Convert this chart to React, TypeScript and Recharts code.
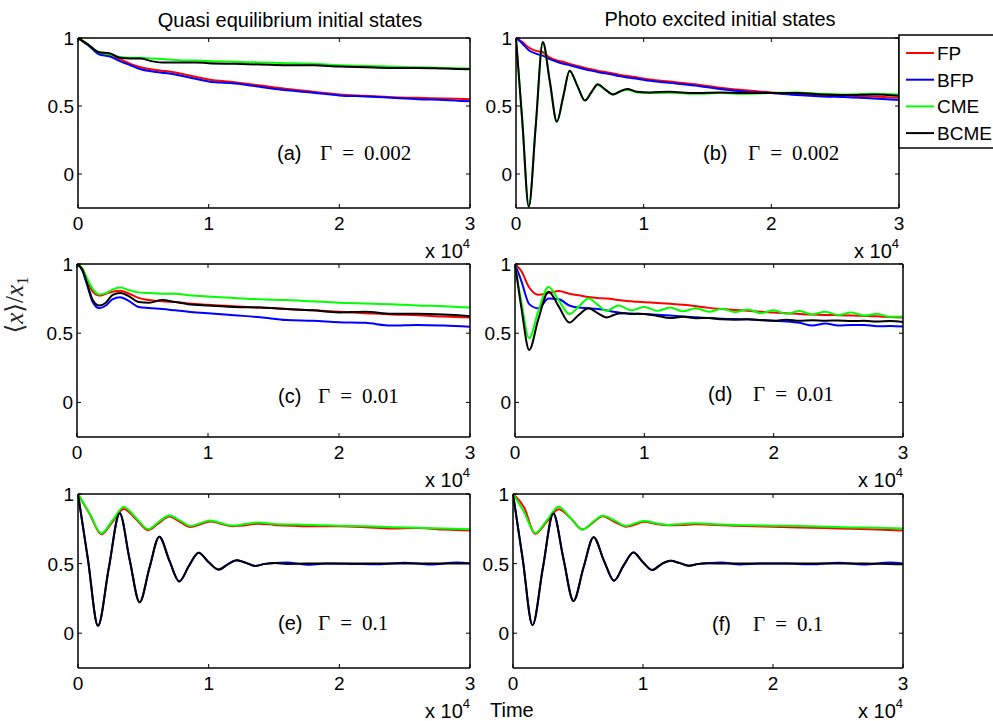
import React from "react";
import { LineChart, Line, XAxis, YAxis } from "recharts";

const SANS = "'Liberation Sans', Arial, Helvetica, sans-serif";
const SERIF = "'Liberation Serif', 'DejaVu Serif', 'Times New Roman', serif";

// series order is also the drawing order
const NAMES = ["FP", "BFP", "CME", "BCME"];
const COLORS = ["#ff0000", "#0000ff", "#00ff00", "#000000"];

const xTicks = [0, 1, 2, 3];
const yTicks = [0, 0.5, 1];

// (a) quasi equilibrium, Gamma = 0.002   (time in units of 1e4)
const tA = [0, 0.08, 0.16, 0.24, 0.32, 0.4, 0.48, 0.56, 0.64, 0.72, 0.8, 0.9, 1.0, 1.2, 1.4, 1.6, 1.8, 2.0, 2.2, 2.4, 2.6, 2.8, 3.0];
const aFP = [1, 0.95, 0.89, 0.875, 0.845, 0.81, 0.785, 0.77, 0.76, 0.75, 0.735, 0.715, 0.695, 0.675, 0.65, 0.625, 0.605, 0.585, 0.575, 0.565, 0.56, 0.555, 0.55];
const aBFP = [1, 0.945, 0.88, 0.865, 0.83, 0.8, 0.77, 0.755, 0.745, 0.735, 0.72, 0.7, 0.68, 0.665, 0.64, 0.615, 0.598, 0.578, 0.57, 0.56, 0.55, 0.545, 0.535];
const aCME = [1, 0.95, 0.895, 0.88, 0.86, 0.855, 0.855, 0.85, 0.845, 0.84, 0.835, 0.835, 0.83, 0.825, 0.82, 0.815, 0.81, 0.8, 0.795, 0.79, 0.785, 0.78, 0.775];
const aBCME = [1, 0.95, 0.895, 0.888, 0.855, 0.85, 0.85, 0.83, 0.82, 0.82, 0.82, 0.82, 0.815, 0.81, 0.805, 0.8, 0.8, 0.79, 0.785, 0.78, 0.78, 0.775, 0.77];

// (b) photo excited, Gamma = 0.002
const tB = [0, 0.05, 0.1, 0.155, 0.21, 0.265, 0.32, 0.37, 0.42, 0.48, 0.54, 0.59, 0.64, 0.7, 0.76, 0.81, 0.87, 0.95, 1.05, 1.2, 1.4, 1.6, 1.8, 2.0, 2.2, 2.4, 2.6, 2.8, 3.0];
const bFP = [1, 0.97, 0.93, 0.905, 0.895, 0.855, 0.835, 0.825, 0.81, 0.795, 0.78, 0.77, 0.76, 0.75, 0.74, 0.73, 0.72, 0.71, 0.695, 0.68, 0.66, 0.635, 0.615, 0.6, 0.59, 0.58, 0.575, 0.57, 0.56];
const bBFP = [1, 0.96, 0.91, 0.885, 0.87, 0.845, 0.825, 0.81, 0.8, 0.785, 0.77, 0.76, 0.75, 0.74, 0.73, 0.72, 0.71, 0.7, 0.685, 0.67, 0.65, 0.625, 0.605, 0.595, 0.58, 0.57, 0.565, 0.555, 0.545];
const bCME = [1, 0.38, -0.24, 0.36, 0.965, 0.68, 0.385, 0.57, 0.755, 0.65, 0.54, 0.6, 0.655, 0.62, 0.585, 0.603, 0.62, 0.6, 0.595, 0.598, 0.59, 0.595, 0.59, 0.595, 0.6, 0.59, 0.585, 0.59, 0.585];
const bBCME = [1, 0.38, -0.24, 0.36, 0.97, 0.68, 0.385, 0.57, 0.76, 0.65, 0.54, 0.6, 0.66, 0.62, 0.585, 0.605, 0.625, 0.605, 0.6, 0.605, 0.595, 0.6, 0.595, 0.595, 0.595, 0.585, 0.58, 0.585, 0.575];

// (c) quasi equilibrium, Gamma = 0.01
const tC = [0, 0.04, 0.08, 0.12, 0.17, 0.22, 0.27, 0.33, 0.4, 0.47, 0.55, 0.65, 0.75, 0.85, 1.0, 1.2, 1.4, 1.6, 1.8, 2.0, 2.2, 2.4, 2.6, 2.8, 3.0];
const cFP = [1, 0.965, 0.88, 0.8, 0.772, 0.785, 0.8, 0.807, 0.785, 0.755, 0.74, 0.73, 0.725, 0.715, 0.705, 0.695, 0.685, 0.675, 0.665, 0.655, 0.645, 0.635, 0.63, 0.62, 0.614];
const cBFP = [1, 0.955, 0.84, 0.725, 0.68, 0.7, 0.745, 0.76, 0.73, 0.69, 0.682, 0.675, 0.665, 0.655, 0.645, 0.63, 0.615, 0.595, 0.59, 0.58, 0.575, 0.555, 0.56, 0.555, 0.546];
const cCME = [1, 0.97, 0.89, 0.82, 0.78, 0.79, 0.815, 0.83, 0.81, 0.795, 0.79, 0.785, 0.785, 0.775, 0.765, 0.755, 0.745, 0.74, 0.73, 0.72, 0.715, 0.71, 0.7, 0.695, 0.685];
const cBCME = [1, 0.96, 0.85, 0.74, 0.7, 0.72, 0.775, 0.79, 0.765, 0.725, 0.72, 0.74, 0.725, 0.71, 0.7, 0.69, 0.685, 0.675, 0.665, 0.65, 0.655, 0.64, 0.64, 0.635, 0.623];

// (d) photo excited, Gamma = 0.01
const tD = [0, 0.05, 0.11, 0.18, 0.26, 0.34, 0.42, 0.49, 0.57, 0.64, 0.71, 0.76, 0.8, 0.85, 0.9, 0.95, 1.0, 1.1, 1.2, 1.3, 1.4, 1.5, 1.6, 1.7, 1.8, 1.9, 2.0, 2.1, 2.2, 2.3, 2.4, 2.5, 2.6, 2.7, 2.8, 2.9, 3.0];
const dFP = [1, 0.947, 0.83, 0.778, 0.79, 0.805, 0.785, 0.775, 0.762, 0.755, 0.75, 0.745, 0.74, 0.735, 0.73, 0.727, 0.724, 0.718, 0.712, 0.705, 0.695, 0.683, 0.675, 0.668, 0.662, 0.655, 0.65, 0.645, 0.638, 0.635, 0.632, 0.63, 0.628, 0.625, 0.622, 0.617, 0.614];
const dBFP = [1, 0.875, 0.71, 0.68, 0.75, 0.745, 0.7, 0.685, 0.68, 0.675, 0.665, 0.655, 0.65, 0.645, 0.642, 0.64, 0.638, 0.633, 0.628, 0.62, 0.615, 0.61, 0.605, 0.602, 0.6, 0.595, 0.59, 0.585, 0.575, 0.555, 0.57, 0.555, 0.56, 0.56, 0.55, 0.552, 0.548];
const dCME = [1, 0.72, 0.464, 0.66, 0.833, 0.735, 0.638, 0.69, 0.75, 0.705, 0.66, 0.685, 0.7, 0.683, 0.665, 0.678, 0.69, 0.662, 0.685, 0.658, 0.68, 0.655, 0.677, 0.652, 0.672, 0.645, 0.665, 0.64, 0.66, 0.636, 0.655, 0.632, 0.65, 0.628, 0.64, 0.618, 0.62];
const dBCME = [1, 0.68, 0.379, 0.6, 0.8, 0.69, 0.577, 0.63, 0.68, 0.645, 0.614, 0.63, 0.642, 0.645, 0.638, 0.64, 0.638, 0.625, 0.61, 0.618, 0.608, 0.61, 0.6, 0.598, 0.6, 0.594, 0.59, 0.598, 0.59, 0.594, 0.59, 0.592, 0.588, 0.59, 0.584, 0.588, 0.58];

// (e) quasi equilibrium, Gamma = 0.1 (fast pair BFP/BCME, slow pair FP/CME)
const tEfast = [0, 0.076, 0.153, 0.236, 0.319, 0.395, 0.472, 0.547, 0.622, 0.7, 0.775, 0.85, 0.923, 1.0, 1.076, 1.146, 1.216, 1.286, 1.357, 1.43, 1.505, 1.6, 1.75, 1.9, 2.1, 2.3, 2.5, 2.7, 2.9, 3.0];
const eBFP = [1, 0.53, 0.053, 0.47, 0.862, 0.53, 0.222, 0.47, 0.693, 0.52, 0.372, 0.485, 0.578, 0.51, 0.457, 0.495, 0.524, 0.505, 0.483, 0.498, 0.505, 0.508, 0.492, 0.5, 0.498, 0.496, 0.507, 0.493, 0.508, 0.503];
const eBCME = [1, 0.53, 0.053, 0.47, 0.862, 0.53, 0.222, 0.47, 0.693, 0.52, 0.372, 0.485, 0.578, 0.51, 0.457, 0.495, 0.524, 0.505, 0.483, 0.498, 0.505, 0.498, 0.5, 0.5, 0.5, 0.5, 0.5, 0.5, 0.5, 0.5];
const tEslow = [0, 0.09, 0.178, 0.264, 0.35, 0.443, 0.536, 0.618, 0.699, 0.78, 0.86, 0.936, 1.012, 1.096, 1.18, 1.28, 1.38, 1.5, 1.65, 1.8, 2.0, 2.2, 2.4, 2.6, 2.8, 3.0];
const eFP = [1, 0.855, 0.71, 0.8, 0.893, 0.82, 0.74, 0.79, 0.838, 0.8, 0.763, 0.782, 0.803, 0.785, 0.768, 0.776, 0.787, 0.778, 0.772, 0.768, 0.768, 0.762, 0.752, 0.755, 0.745, 0.737];
const eCME = [1, 0.86, 0.717, 0.81, 0.906, 0.83, 0.748, 0.8, 0.846, 0.81, 0.77, 0.79, 0.81, 0.79, 0.773, 0.784, 0.795, 0.785, 0.78, 0.778, 0.772, 0.768, 0.762, 0.757, 0.752, 0.747];

// (f) photo excited, Gamma = 0.1
const tFfast = [0, 0.075, 0.15, 0.23, 0.31, 0.388, 0.465, 0.542, 0.62, 0.7, 0.777, 0.85, 0.926, 1.0, 1.07, 1.14, 1.21, 1.28, 1.35, 1.43, 1.5, 1.6, 1.75, 1.9, 2.1, 2.3, 2.5, 2.7, 2.9, 3.0];
const fBFP = [1, 0.53, 0.058, 0.47, 0.86, 0.535, 0.232, 0.47, 0.69, 0.52, 0.377, 0.485, 0.58, 0.51, 0.454, 0.495, 0.52, 0.505, 0.485, 0.498, 0.503, 0.508, 0.493, 0.5, 0.5, 0.495, 0.507, 0.493, 0.508, 0.5];
const fBCME = [1, 0.53, 0.058, 0.47, 0.86, 0.535, 0.232, 0.47, 0.69, 0.52, 0.377, 0.485, 0.58, 0.51, 0.454, 0.495, 0.52, 0.505, 0.485, 0.498, 0.503, 0.5, 0.5, 0.5, 0.5, 0.5, 0.5, 0.5, 0.498, 0.495];
const tFslow = [0, 0.085, 0.17, 0.26, 0.35, 0.44, 0.535, 0.61, 0.69, 0.78, 0.87, 0.94, 1.01, 1.1, 1.19, 1.3, 1.4, 1.55, 1.7, 1.85, 2.0, 2.2, 2.4, 2.6, 2.8, 3.0];
const fFP = [1, 0.905, 0.715, 0.8, 0.89, 0.83, 0.745, 0.79, 0.84, 0.8, 0.765, 0.78, 0.8, 0.785, 0.775, 0.777, 0.782, 0.778, 0.772, 0.768, 0.765, 0.76, 0.755, 0.75, 0.745, 0.737];
const fCME = [1, 0.87, 0.72, 0.81, 0.908, 0.83, 0.744, 0.795, 0.843, 0.81, 0.77, 0.79, 0.806, 0.79, 0.778, 0.785, 0.79, 0.782, 0.778, 0.775, 0.772, 0.77, 0.765, 0.76, 0.757, 0.752];

type Pt = { t: number; v: number };
type Box = { left: number; top: number; width: number; height: number };

const pts = (ts: number[], vs: number[]): Pt[] => ts.map((t, i) => ({ t, v: vs[i] }));

const panels = [
  { box: { left: 78, top: 38, width: 392, height: 170 }, series: [pts(tA, aFP), pts(tA, aBFP), pts(tA, aCME), pts(tA, aBCME)], tag: "(a)", gamma: "0.002", tagX: 277, gX: 320, baseY: 160 },
  { box: { left: 516, top: 38, width: 383, height: 170 }, series: [pts(tB, bFP), pts(tB, bBFP), pts(tB, bCME), pts(tB, bBCME)], tag: "(b)", gamma: "0.002", tagX: 703, gX: 748, baseY: 160 },
  { box: { left: 77, top: 264, width: 393, height: 173 }, series: [pts(tC, cFP), pts(tC, cBFP), pts(tC, cCME), pts(tC, cBCME)], tag: "(c)", gamma: "0.01", tagX: 278, gX: 318, baseY: 403 },
  { box: { left: 515, top: 264, width: 388, height: 173 }, series: [pts(tD, dFP), pts(tD, dBFP), pts(tD, dCME), pts(tD, dBCME)], tag: "(d)", gamma: "0.01", tagX: 708, gX: 753, baseY: 401 },
  { box: { left: 78, top: 494, width: 392, height: 174 }, series: [pts(tEslow, eFP), pts(tEfast, eBFP), pts(tEslow, eCME), pts(tEfast, eBCME)], tag: "(e)", gamma: "0.1", tagX: 278, gX: 318, baseY: 630 },
  { box: { left: 513, top: 494, width: 390, height: 174 }, series: [pts(tFslow, fFP), pts(tFfast, fBFP), pts(tFslow, fCME), pts(tFfast, fBCME)], tag: "(f)", gamma: "0.1", tagX: 712, gX: 753, baseY: 631 },
];

const PL = 50;
const PT = 10;
const PR = 10;
const PB = 40;

function Panel({ box, series }: { box: Box; series: Pt[][] }) {
  const bottom = PT + box.height;
  const right = PL + box.width;

  const bottomTick = ({ x, payload }: any) => (
    <g>
      <line x1={x} x2={x} y1={bottom} y2={bottom - 4} stroke="#000" />
      <text x={x} y={bottom + 22} textAnchor="middle" fontSize={19} fontFamily={SANS} fill="#000">
        {payload.value}
      </text>
    </g>
  );
  const topTick = ({ x }: any) => <line x1={x} x2={x} y1={PT} y2={PT + 4} stroke="#000" />;
  const leftTick = ({ y, payload }: any) => (
    <g>
      <line x1={PL} x2={PL + 4} y1={y} y2={y} stroke="#000" />
      <text x={PL - 4} y={y + 7} textAnchor="end" fontSize={19} fontFamily={SANS} fill="#000">
        {payload.value}
      </text>
    </g>
  );
  const rightTick = ({ y }: any) => <line x1={right} x2={right - 4} y1={y} y2={y} stroke="#000" />;
  const axisLine = { stroke: "#000", strokeWidth: 1.5 };

  // the top and right axes are 1px thick (zero size axes are not drawn at all)
  return (
    <div style={{ position: "absolute", left: box.left - PL, top: box.top - PT }}>
      <LineChart
        width={box.width + PL + PR}
        height={box.height + PT + PB}
        margin={{ top: PT - 1, right: PR - 1, bottom: 0, left: 0 }}
      >
        <XAxis dataKey="t" type="number" domain={[0, 3]} ticks={xTicks} interval={0} allowDataOverflow
          height={PB} tickSize={0} tickMargin={0} tickLine={false} axisLine={axisLine} tick={bottomTick} />
        <XAxis xAxisId="top" orientation="top" dataKey="t" type="number" domain={[0, 3]} ticks={xTicks} interval={0}
          allowDataOverflow height={1} tickSize={0} tickMargin={0} tickLine={false} axisLine={axisLine} tick={topTick} />
        <YAxis type="number" domain={[-0.25, 1]} ticks={yTicks} interval={0} allowDataOverflow width={PL}
          tickSize={0} tickMargin={0} tickLine={false} axisLine={axisLine} tick={leftTick} />
        <YAxis yAxisId="r" orientation="right" type="number" domain={[-0.25, 1]} ticks={yTicks} interval={0}
          allowDataOverflow width={1} tickSize={0} tickMargin={0} tickLine={false} axisLine={axisLine} tick={rightTick} />
        {/* invisible copy bound to the top/right axes so that the box frame is drawn */}
        <Line data={series[0]} dataKey="v" xAxisId="top" yAxisId="r" stroke="none" dot={false}
          activeDot={false} legendType="none" isAnimationActive={false} />
        {series.map((d, i) => (
          <Line
            key={NAMES[i]}
            data={d}
            dataKey="v"
            name={NAMES[i]}
            type="monotone"
            stroke={COLORS[i]}
            strokeWidth={2}
            dot={false}
            activeDot={false}
            isAnimationActive={false}
          />
        ))}
      </LineChart>
    </div>
  );
}

function TimesTen({ right, bottom }: { right: number; bottom: number }) {
  return (
    <text x={right - 45} y={bottom + 50} fontSize={20} fontFamily={SANS} fill="#000">
      x 10
      <tspan fontSize={13} dy={-10}>4</tspan>
    </text>
  );
}

export default function App() {
  return (
    <div style={{ position: "absolute", left: 0, top: 0, width: 993, height: 721, background: "#fff", overflow: "hidden" }}>
      {panels.map((p) => (
        <Panel key={p.tag} box={p.box} series={p.series} />
      ))}
      <svg width={993} height={721} style={{ position: "absolute", left: 0, top: 0, pointerEvents: "none" }}>
        <text x={290} y={27} textAnchor="middle" fontSize={20} fontFamily={SANS} fill="#000">
          Quasi equilibrium initial states
        </text>
        <text x={720} y={26} textAnchor="middle" fontSize={20} fontFamily={SANS} fill="#000">
          Photo excited initial states
        </text>

        {panels.map((p) => (
          <g key={p.tag}>
            <TimesTen right={p.box.left + p.box.width} bottom={p.box.top + p.box.height} />
            <text x={p.tagX} y={p.baseY} fontSize={20} fontFamily={SANS} fill="#000">{p.tag}</text>
            <text x={p.gX} y={p.baseY} fontSize={21} fontFamily={SERIF} fill="#000">
              Γ<tspan dx={10}>=</tspan><tspan dx={10}>{p.gamma}</tspan>
            </text>
          </g>
        ))}

        <text x={490} y={717} fontSize={20} fontFamily={SANS} fill="#000">Time</text>

        <text x={23} y={305} transform="rotate(-90 23 305)" textAnchor="middle" fontSize={25} fontFamily={SERIF} fill="#222">
          ⟨<tspan fontStyle="italic">x</tspan>⟩/<tspan fontStyle="italic">x</tspan>
          <tspan fontSize={17} dy={5}>1</tspan>
        </text>

        <g>
          <rect x={899} y={35} width={110} height={113} fill="#fff" stroke="#000" strokeWidth={1.5} />
          {NAMES.map((n, i) => {
            const y = 53 + i * 26.7;
            return (
              <g key={n}>
                <line x1={906} x2={934} y1={y} y2={y} stroke={COLORS[i]} strokeWidth={2} />
                <text x={937} y={y + 7} fontSize={19} fontFamily={SANS} fill="#000">{n}</text>
              </g>
            );
          })}
        </g>
      </svg>
    </div>
  );
}
